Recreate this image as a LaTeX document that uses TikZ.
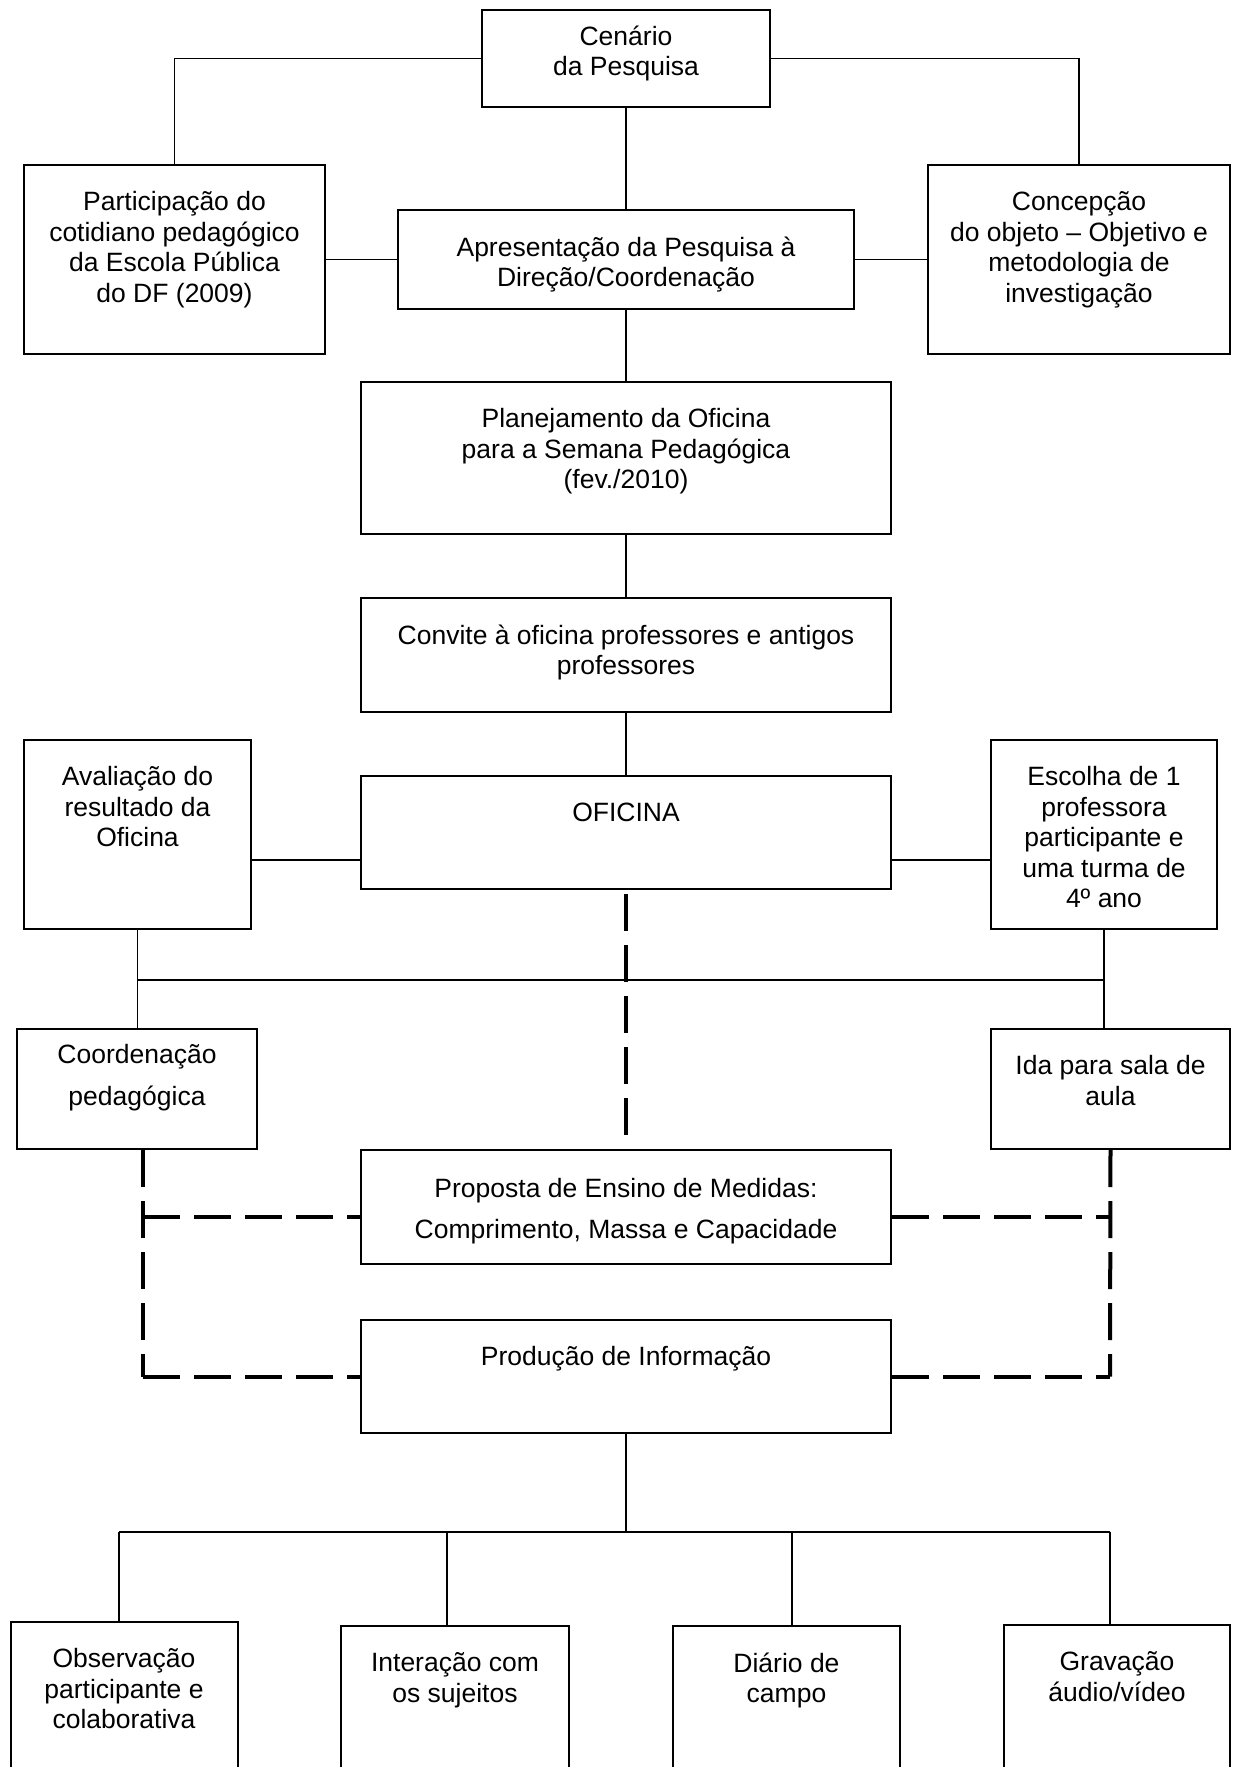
\documentclass[tikz,border=0pt]{standalone}
\usepackage{fontspec}
\setmainfont{Liberation Sans}

\begin{document}
\begin{tikzpicture}[
    x=1pt, y=-1pt,
    font=\fontsize{26.5}{30.5}\selectfont,
    line width=1.5pt,
    box/.style={draw, line width=2pt, inner sep=0pt, minimum width=#1},
    box/.default=530,
    txt/.style={anchor=north, align=center, inner sep=0pt, yshift=-27pt},
    dashline/.style={line width=4pt, dash pattern=on 37pt off 14pt}
]

    \useasboundingbox (0, 0) rectangle (1232, 1767);
    \clip (0, 0) rectangle (1232, 1767);

    % Upper boxes
    \node[box=288, minimum height=97, label={[txt, yshift=11pt]north:Cenário\\da Pesquisa}] (cen) at (626, 58.5) {};
    \node[box=301, minimum height=189, label={[txt]north:Participação do\\cotidiano pedagógico\\da Escola Pública\\do DF (2009)}] (part) at (174.5, 259.5) {};
    \node[box=456, minimum height=99, label={[txt]north:Apresentação da Pesquisa à\\Direção/Coordenação}] (apre) at (626, 259.5) {};
    \node[box=302, minimum height=189, label={[txt]north:Concepção\\do objeto – Objetivo e\\metodologia de\\investigação}] (conc) at (1079, 259.5) {};
    \node[box, minimum height=152, label={[txt]north:Planejamento da Oficina\\para a Semana Pedagógica\\(fev./2010)}] (plan) at (626, 458) {};
    \node[box, minimum height=114, label={[txt]north:Convite à oficina professores e antigos\\professores}] (conv) at (626, 655) {};

    % Middle boxes
    \node[box, minimum height=113, label={[txt]north:OFICINA}] (ofi) at (626, 832.5) {};
    \node[box=227, minimum height=189, label={[txt]north:Avaliação do\\resultado da\\Oficina}] (aval) at (137.5, 834.5) {};
    \node[box=226, minimum height=189, label={[txt]north:Escolha de 1\\professora\\participante e\\uma turma de\\4º ano}] (esco) at (1104, 834.5) {};
    \node[box=240, minimum height=120, label={[txt, yshift=11pt]north:Coordenação\\[11pt]pedagógica}] (coor) at (137, 1089) {};
    \node[box=239, minimum height=120, label={[txt]north:Ida para sala de\\aula}] (ida) at (1110.5, 1089) {};
    \node[box, minimum height=114, label={[txt, yshift=-2pt]north:{Proposta de Ensino de Medidas:\\[10pt]Comprimento, Massa e Capacidade}}] (prop) at (626, 1207) {};
    \node[box, minimum height=113, label={[txt]north:Produção de Informação}] (prod) at (626, 1376.5) {};

    % Lower boxes (cut by the page edge)
    \node[box=227, minimum height=200, label={[txt]north:Observação\\participante e\\colaborativa}] (obs) at (124, 1722) {};
    \node[box=228, minimum height=200, label={[txt]north:Interação com\\os sujeitos}] (inte) at (455, 1726) {};
    \node[box=227, minimum height=200, label={[txt]north:Diário de\\campo}] (diar) at (786.5, 1726) {};
    \node[box=226, minimum height=200, label={[txt]north:Gravação\\áudio/vídeo}] (grav) at (1117, 1725) {};

    % Junction coordinates
    \coordinate (ofiside) at (626, 860);
    \coordinate (busL) at (137.5, 980);
    \coordinate (busR) at (1104, 980);
    \coordinate (hub) at (626, 1532);
    \coordinate (t1) at (119, 1532);
    \coordinate (t2) at (447, 1532);
    \coordinate (t3) at (792, 1532);
    \coordinate (t4) at (1110, 1532);
    \coordinate (pL) at (143, 1217);
    \coordinate (pR) at (1110, 1217);
    \coordinate (qL) at (143, 1376.5);
    \coordinate (qR) at (1110, 1376.5);

    % Solid connectors
    \draw (cen.west) -| (part.north);
    \draw (cen.east) -| (conc.north);
    \draw (cen.south) -- (apre.north);
    \draw (part.east) -- (apre.west);
    \draw (apre.east) -- (conc.west);
    \draw (apre.south) -- (plan.north);
    \draw (plan.south) -- (conv.north);
    \draw (conv.south) -- (ofi.north);
    \draw (aval.east |- ofiside) -- (ofi.west |- ofiside);
    \draw (ofi.east |- ofiside) -- (esco.west |- ofiside);
    \draw (aval.south) -- (aval.south |- coor.north);
    \draw (esco.south) -- (esco.south |- ida.north);
    \draw (busL) -- (busR);
    \draw (prod.south) -- (hub);
    \draw (t1) -- (t4);
    \draw (t1) -- (t1 |- obs.north);
    \draw (t2) -- (t2 |- inte.north);
    \draw (t3) -- (t3 |- diar.north);
    \draw (t4) -- (t4 |- grav.north);

    % Dashed connectors
    \draw[dashline, shorten <=4pt, shorten >=14pt] (ofi.south) -- (prop.north);
    \draw[dashline] (coor.south -| qL) -- (qL);
    \draw[dashline] (pL) -- (pL -| prop.west);
    \draw[dashline] (qL) -- (prod.west);
    \draw[dashline] (ida.south) -- (qR);
    \draw[dashline] (prop.east |- pR) -- (pR);
    \draw[dashline] (prod.east) -- (qR);

\end{tikzpicture}
\end{document}
